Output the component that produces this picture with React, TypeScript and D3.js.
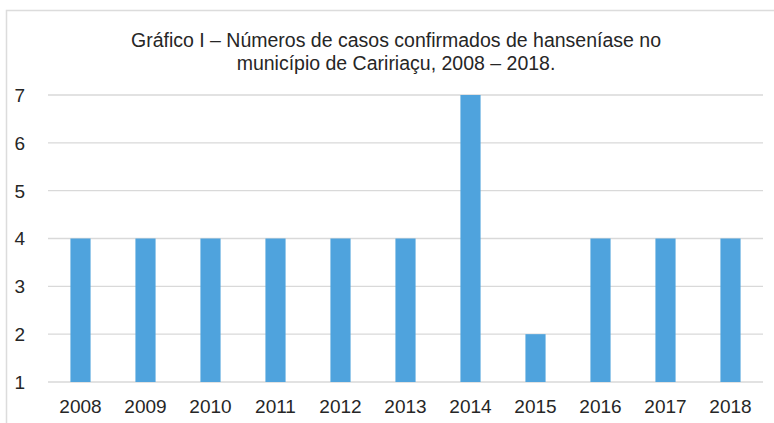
import React from "react";
import * as d3 from "d3";

const years = ["2008", "2009", "2010", "2011", "2012", "2013", "2014", "2015", "2016", "2017", "2018"];
const cases = [4, 4, 4, 4, 4, 4, 7, 2, 4, 4, 4];
const yTicks = [1, 2, 3, 4, 5, 6, 7];
const titleLines = [
  "Gráfico I – Números de casos confirmados de hanseníase no",
  "município de Caririaçu, 2008 – 2018.",
];

const W = 774;
const H = 423;
const left = 48;
const right = 763;
const top = 95;
const bottom = 382;

export default function App() {
  const x = d3.scaleBand<string>().domain(years).range([left, right]).paddingInner(0.69).paddingOuter(0.345);
  const y = d3.scaleLinear().domain([1, 7]).range([bottom, top]);
  const font = "'Liberation Sans', Arial, sans-serif";
  return (
    <svg
      width={W}
      height={H}
      style={{ position: "absolute", left: 0, top: 0, background: "#fff" }}
      fontFamily={font}
    >
      <rect x={6.5} y={10.5} width={W} height={H} fill="#fff" stroke="#dcdcdc" strokeWidth={1.5} />
      {titleLines.map((t, i) => (
        <text key={i} x={396} y={47 + i * 23} textAnchor="middle" fontSize={19.5} fill="#262626">
          {t}
        </text>
      ))}
      {yTicks.map((t) => (
        <g key={t}>
          <line x1={left} x2={right} y1={y(t)} y2={y(t)} stroke="#d9d9d9" strokeWidth={1.3} />
          <text x={25} y={y(t)} dy="0.36em" textAnchor="end" fontSize={19} fill="#262626">
            {t}
          </text>
        </g>
      ))}
      {years.map((yr, i) => (
        <rect
          key={yr}
          x={x(yr)}
          y={y(cases[i])}
          width={x.bandwidth()}
          height={y(1) - y(cases[i])}
          fill="#4fa3dd"
        />
      ))}
      {years.map((yr) => (
        <text
          key={yr}
          x={(x(yr) as number) + x.bandwidth() / 2}
          y={413}
          textAnchor="middle"
          fontSize={19}
          fill="#262626"
        >
          {yr}
        </text>
      ))}
    </svg>
  );
}
